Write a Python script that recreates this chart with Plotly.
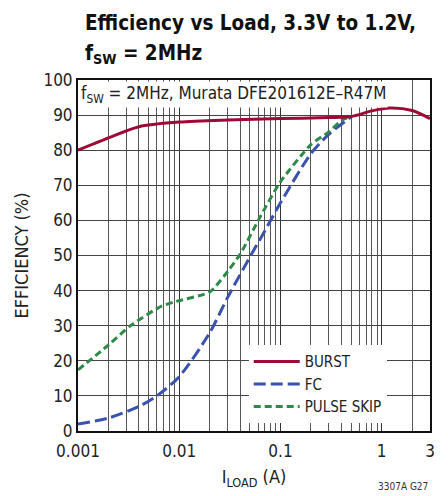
import plotly.graph_objects as go

# Data
load_burst = [0.001, 0.002, 0.004, 0.01, 0.03, 0.1, 0.3, 0.5, 0.8, 1.2, 2, 3]
eff_burst = [80, 83.5, 86.7, 88, 88.6, 89, 89.3, 89.6, 91.2, 92, 91.3, 89]

load_fc = [0.001, 0.002, 0.004, 0.006, 0.01, 0.02, 0.03, 0.05, 0.07, 0.1, 0.2, 0.3, 0.5]
eff_fc = [2, 3.7, 7, 10, 15.5, 28, 38, 49.6, 57, 65, 79, 84.5, 89.5]

load_ps = [0.001, 0.002, 0.0033, 0.0065, 0.009, 0.02, 0.028, 0.04, 0.063, 0.1, 0.2, 0.3, 0.41, 0.5]
eff_ps = [17.4, 24.5, 30, 35.4, 36.8, 39.6, 44.3, 50.4, 61, 71, 81.6, 85.2, 88.7, 89.6]

x_tickvals = [0.001, 0.01, 0.1, 1, 3]
x_ticktext = ["0.001", "0.01", "0.1", "1", "3"]
y_tickvals = list(range(0, 101, 10))

FONT = "Liberation Sans Narrow, DejaVu Sans Condensed, Liberation Sans, sans-serif"
TFONT = FONT

fig = go.Figure()
fig.add_trace(go.Scatter(x=load_fc, y=eff_fc, name="FC", mode="lines", legendrank=2,
                         line=dict(color="#3A52B0", width=3, dash="12px,5px", shape="spline", smoothing=0.8)))
fig.add_trace(go.Scatter(x=load_ps, y=eff_ps, name="PULSE SKIP", mode="lines", legendrank=3,
                         line=dict(color="#2E8A48", width=3, dash="7px,4px", shape="spline", smoothing=0.6)))
fig.add_trace(go.Scatter(x=load_burst, y=eff_burst, name="BURST", mode="lines", legendrank=1,
                         line=dict(color="#9E0A38", width=3, shape="spline", smoothing=0.8)))

fig.update_layout(
    width=448, height=496,
    margin=dict(l=78, r=18, t=80, b=63),
    paper_bgcolor="white", plot_bgcolor="white",
    font=dict(family=FONT, size=16, color="#222"),
    showlegend=True,
    legend=dict(x=0.485, y=0.244, xanchor="left", yanchor="top", bgcolor="white",
                font=dict(family=FONT, size=15, color="#222"),
                tracegroupgap=0, itemwidth=46, traceorder="normal"),
    xaxis=dict(type="log", range=[-3, 0.4771], tickvals=x_tickvals, ticktext=x_ticktext,
               showgrid=True, gridcolor="#333", gridwidth=1,
               minor=dict(dtick="D1", showgrid=True, gridcolor="#555", gridwidth=1),
               showline=True, linecolor="#111", linewidth=2, mirror=True,
               ticks="", zeroline=False, tickfont=dict(size=17), ticklabelstandoff=4,
               title=dict(text="I<sub>LOAD</sub> (A)", standoff=10,
                          font=dict(family=FONT, size=18))),
    yaxis=dict(range=[0, 100], tickvals=y_tickvals, showgrid=True, gridcolor="#444", gridwidth=1,
               showline=True, linecolor="#111", linewidth=2, mirror=True,
               ticks="", zeroline=False, tickfont=dict(size=17),
               title=dict(text="EFFICIENCY (%)", standoff=10,
                          font=dict(family=FONT, size=18))),
)

fig.add_annotation(text="Efficiency vs Load, 3.3V to 1.2V,", xref="paper", yref="paper",
                   x=(83 - 78) / 352, y=1 + 57 / 353, xanchor="left", yanchor="middle",
                   showarrow=False, font=dict(family=TFONT, size=20.5, color="#111", weight="bold"))
fig.add_annotation(text="f<sub>SW</sub> = 2MHz", xref="paper", yref="paper",
                   x=(83 - 78) / 352, y=1 + 26 / 353, xanchor="left", yanchor="middle",
                   showarrow=False, font=dict(family=TFONT, size=20.5, color="#111", weight="bold"))
fig.add_annotation(text="f<sub>SW</sub> = 2MHz, Murata DFE201612E\u2013R47M",
                   xref="paper", yref="paper", x=0.004, y=0.997, xanchor="left", yanchor="top",
                   showarrow=False, bgcolor="white", borderpad=1,
                   font=dict(family=FONT, size=17, color="#222"))
fig.add_annotation(text="3307A G27", xref="paper", yref="paper", x=1.0, y=-48 / 353,
                   xanchor="right", yanchor="top", showarrow=False,
                   font=dict(family=FONT, size=10, color="#333"))

fig.write_html("out.html", config={"displayModeBar": False},
               post_script="document.body.style.margin='0';document.body.style.overflow='hidden';")
